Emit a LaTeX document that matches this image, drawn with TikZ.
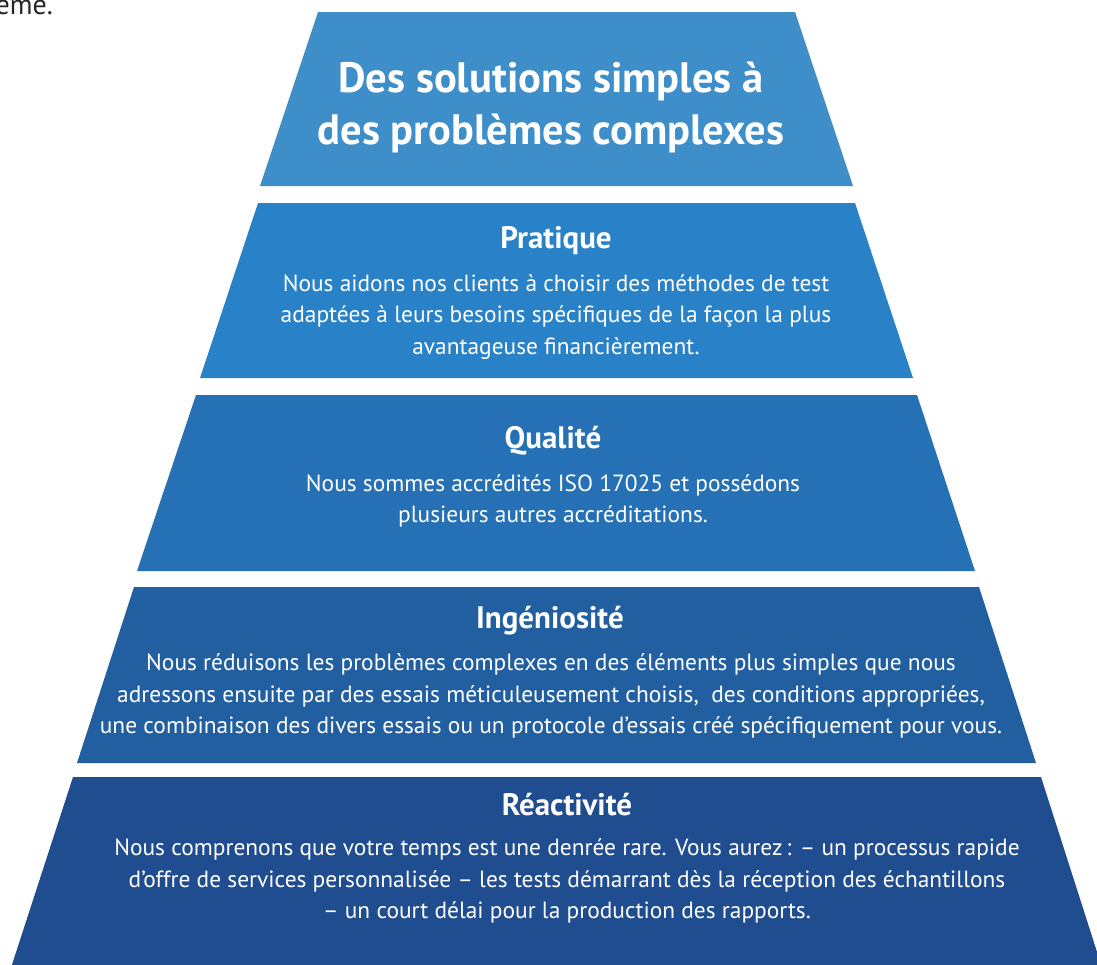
\documentclass[tikz,border=0pt]{standalone}
\usepackage{fontspec}
\setmainfont{PT Sans}
\definecolor{c1}{RGB}{62,142,202}
\definecolor{c2}{RGB}{41,130,199}
\definecolor{c3}{RGB}{38,113,181}
\definecolor{c4}{RGB}{34,95,161}
\definecolor{c5}{RGB}{32,77,143}
\tikzset{
  layer/.style={draw=none},
  titletext/.style={text=white,font=\fontsize{42.5}{52}\selectfont\bfseries,align=center,inner sep=0pt},
  headtext/.style={text=white,font=\fontsize{31}{34}\selectfont\bfseries,align=center,inner sep=0pt},
  bodytext/.style={text=white,font=\fontsize{23.4}{31.5}\selectfont,align=center,inner sep=0pt},
}
\begin{document}
\begin{tikzpicture}[x=1pt,y=-1pt]
\useasboundingbox (0,0) rectangle (1097,964);
\fill[white] (0,0) rectangle (1097,964);
% layers
\fill[c1,layer] (318,12) -- (795,12) -- (853,186) -- (260,186) -- cycle;
\fill[c2,layer] (258,203) -- (855,203) -- (913,378) -- (200,378) -- cycle;
\fill[c3,layer] (196,395) -- (917,395) -- (975,571) -- (137,571) -- cycle;
\fill[c4,layer] (134,587) -- (979,587) -- (1036,763) -- (77,763) -- cycle;
\fill[c5,layer] (73,777) -- (1041,777) -- (1106,980) -- (7,980) -- cycle;
% partial text
\node[anchor=base east,inner sep=0pt,text=black!85,font=\fontsize{28}{30}\selectfont] (cut) at (53,14) {ème.};
% texts
\node[titletext] (title) at (551,107) {Des solutions simples à\\des problèmes complexes};
\node[headtext] (h2) at (556,241) {Pratique};
\node[bodytext] (b2) at (556,317) {Nous aidons nos clients à choisir des méthodes de test\\adaptées à leurs besoins spécifiques de la façon la plus\\avantageuse financièrement.};
\node[headtext] (h3) at (553,441) {Qualité};
\node[bodytext] (b3) at (553,501) {Nous sommes accrédités ISO 17025 et possédons\\plusieurs autres accréditations.};
\node[headtext] (h4) at (550,621) {Ingéniosité};
\node[bodytext] (b4) at (551,696) {Nous réduisons les problèmes complexes en des éléments plus simples que nous\\adressons ensuite par des essais méticuleusement choisis,\ \ des conditions appropriées,\\une combinaison des divers essais ou un protocole d’essais créé spécifiquement pour vous.};
\node[headtext] (h5) at (567,805) {Réactivité};
\node[bodytext] (b5) at (567,881) {Nous comprenons que votre temps est une denrée rare. Vous aurez\,: – un processus rapide\\d’offre de services personnalisée – les tests démarrant dès la réception des échantillons\\– un court délai pour la production des rapports.};
\end{tikzpicture}
\end{document}
